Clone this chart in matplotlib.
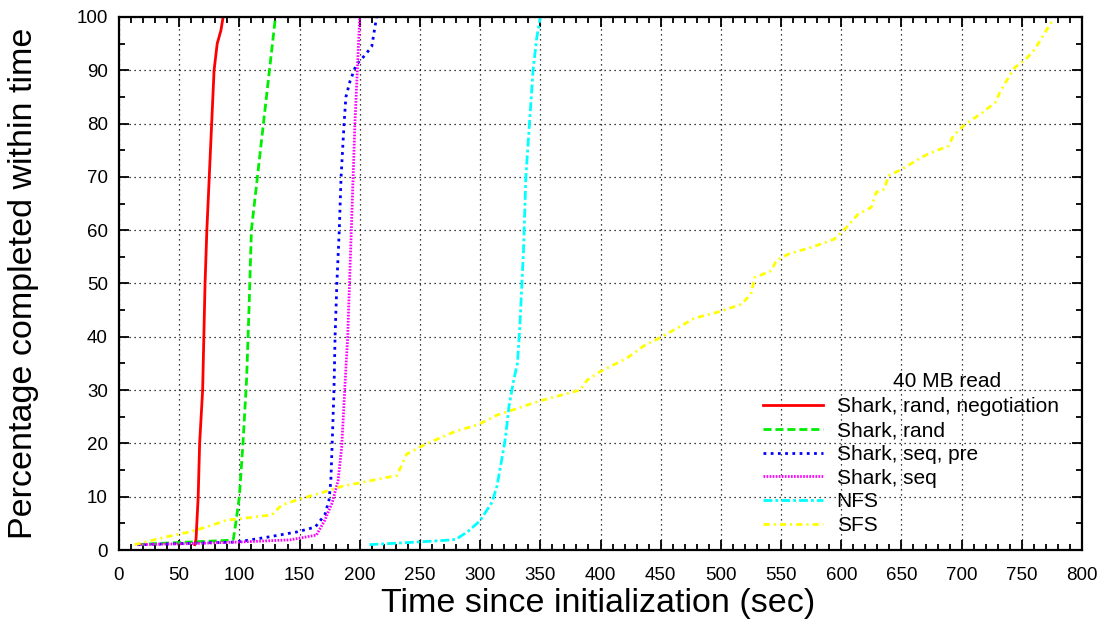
import matplotlib
matplotlib.use("Agg")
import matplotlib.pyplot as plt
from matplotlib.ticker import MultipleLocator

# Shark, rand, negotiation
red_x = [63, 64, 65.8, 67, 69.5, 70.5, 71.5, 73, 75, 77, 79, 81.6, 84.7, 86.5]
red_y = [1, 2, 10, 20, 30, 40, 50, 60, 70, 80, 90, 95, 97.5, 100]

# Shark, rand
green_x = [15, 30, 50, 70, 90, 95, 97, 100, 103, 106, 108, 110, 115, 120, 125, 130]
green_y = [1, 1.2, 1.4, 1.6, 1.8, 2, 5, 10, 20, 32, 45, 60, 70, 80, 90, 100]

# Shark, seq, pre
blue_x = [15, 50, 98, 123, 148, 163, 171, 174.5, 176, 177, 178.6, 179.5, 181, 183,
          184.5, 187, 188.5, 192, 197, 205, 210, 214]
blue_y = [1, 1.2, 1.5, 2.4, 3.4, 4.3, 6.6, 9.4, 13, 19.3, 30, 40, 50, 60,
          70, 80, 85, 88, 91, 93, 94.5, 100]

# Shark, seq
magenta_x = [15, 60, 100, 142, 164, 171, 177, 182, 185, 188, 190, 193, 196, 198, 200]
magenta_y = [1, 1.2, 1.5, 1.9, 2.8, 5.6, 8.8, 13, 19.3, 32, 40, 60, 80, 90, 100]

# NFS
cyan_x = [208, 240, 270, 280, 290, 300, 310, 314, 318, 321, 324, 328, 331, 333,
          336, 338, 341, 344, 347, 350]
cyan_y = [1, 1.4, 1.8, 2, 3.5, 5.5, 9, 12, 17, 21, 27, 32, 35, 42,
          56, 70, 80, 90, 96, 100]

# SFS
yellow_x = [13, 40, 59, 78, 89, 106, 127, 135, 148, 172, 186, 200, 231, 239, 256,
            280, 298, 314, 350, 383, 389, 400, 422, 436, 450, 472, 478, 497, 517,
            525, 528, 542, 546, 556, 578, 594, 603, 614, 625, 629, 636, 639, 650,
            664, 672, 689, 693, 703, 717, 728, 732, 738, 744, 753, 761, 769, 775]
yellow_y = [1, 2.5, 3.4, 4.7, 5.6, 6, 6.6, 8.4, 9.4, 11, 12, 12.6, 14, 18, 20,
            22.3, 23.5, 25.3, 28, 30, 31.9, 33.5, 36, 38.3, 39.9, 42.7, 43.5, 44.6, 46.1,
            48, 51.1, 52.4, 54.3, 55.5, 57, 58.3, 60.2, 63, 64.3, 67.1, 67.7, 70.2, 71.4,
            73.3, 74.3, 75.8, 77.7, 79.9, 82, 84, 86, 88.3, 90.5, 92, 94, 97, 99.2]

labels = ["Shark, rand, negotiation", "Shark, rand", "Shark, seq, pre",
          "Shark, seq", "NFS", "SFS"]
legend_title = "40 MB read"

font = ["Liberation Sans", "DejaVu Sans"]
plt.rcParams["font.family"] = font

fig = plt.figure(figsize=(11.14, 6.2), dpi=100)
ax = fig.add_axes([0.1068, 0.1129, 0.8645, 0.8597])

lw = 2.0
ax.plot(red_x, red_y, color="#ff0000", lw=lw, ls="-", label=labels[0])
ax.plot(green_x, green_y, color="#00ee00", lw=lw, ls=(0, (2.9, 1.4)), label=labels[1])
ax.plot(blue_x, blue_y, color="#0000ff", lw=lw, ls=(0, (1.0, 1.6)), label=labels[2])
ax.plot(magenta_x, magenta_y, color="#ff00ff", lw=lw, ls=(0, (0.6, 0.5)), label=labels[3])
ax.plot(cyan_x, cyan_y, color="#00ffff", lw=lw, ls=(0, (3.2, 1.1, 1, 1.1)), label=labels[4])
ax.plot(yellow_x, yellow_y, color="#ffff00", lw=lw, ls=(0, (2.2, 1.5, 0.7, 1.5)), label=labels[5])

ax.set_xlim(0, 800)
ax.set_ylim(0, 100)
ax.xaxis.set_major_locator(MultipleLocator(50))
ax.xaxis.set_minor_locator(MultipleLocator(10))
ax.yaxis.set_major_locator(MultipleLocator(10))
ax.yaxis.set_minor_locator(MultipleLocator(5))
ax.tick_params(which="both", direction="in", top=True, right=True, width=1.3)
ax.tick_params(which="major", length=7, labelsize=13.5)
ax.tick_params(axis="x", which="major", pad=12)
ax.tick_params(axis="y", which="major", pad=8)
ax.tick_params(which="minor", length=4)
for s in ax.spines.values():
    s.set_linewidth(1.6)
ax.grid(True, which="major", color="black", ls=(0, (1, 3)), lw=0.9)

ax.set_xlabel("Time since initialization (sec)", fontsize=24.5)
ax.set_ylabel("Percentage completed within time", fontsize=24.5)
ax.xaxis.set_label_coords(0.498, -0.071)
ax.yaxis.set_label_coords(-0.083, 0.5)

leg = ax.legend(loc="lower right", bbox_to_anchor=(0.98, 0.02), frameon=False,
                fontsize=15, handlelength=2.9, handletextpad=0.65,
                labelspacing=0.23, borderaxespad=0, borderpad=0.2)
ax.text(0.86, 0.317, legend_title, transform=ax.transAxes, fontsize=15,
        ha="center", va="center")

fig.savefig("out.png", dpi=100)
